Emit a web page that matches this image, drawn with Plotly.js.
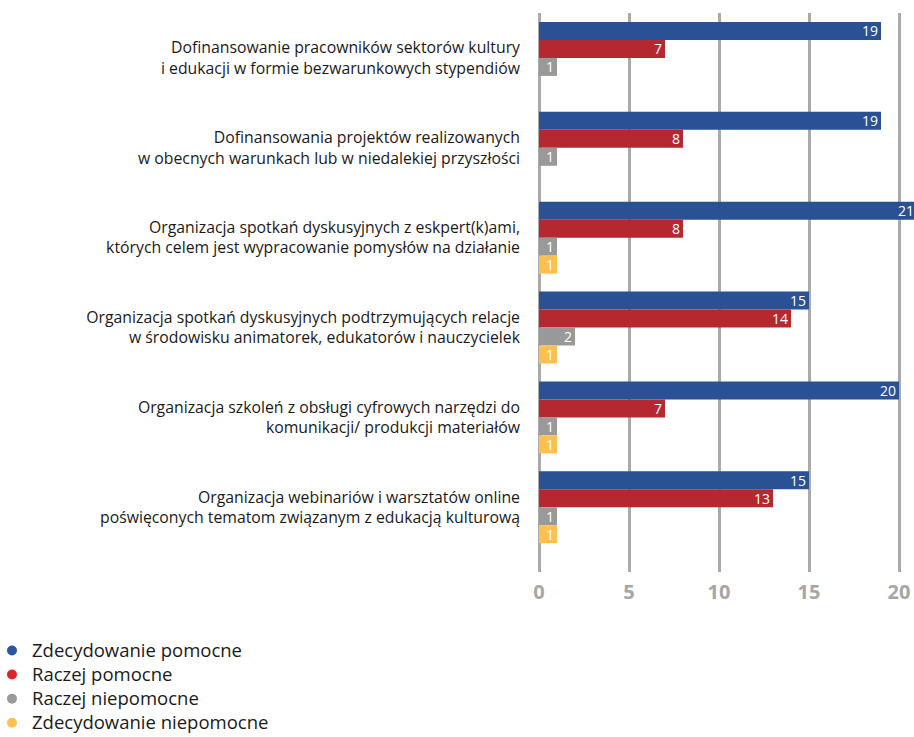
<!DOCTYPE html>
<html>
<head>
<meta charset="utf-8">
<script src="https://cdn.plot.ly/plotly-3.0.1.min.js"></script>
<style>html,body{margin:0;padding:0;background:#fff;}#chart{width:914px;height:737px;}</style>
</head>
<body>
<div id="chart"></div>
<script>
const categories = [
  "Dofinansowanie pracowników sektorów kultury<br>i edukacji w formie bezwarunkowych stypendiów",
  "Dofinansowania projektów realizowanych<br>w obecnych warunkach lub w niedalekiej przyszłości",
  "Organizacja spotkań dyskusyjnych z eskpert(k)ami,<br>których celem jest wypracowanie pomysłów na działanie",
  "Organizacja spotkań dyskusyjnych podtrzymujących relacje<br>w środowisku animatorek, edukatorów i nauczycielek",
  "Organizacja szkoleń z obsługi cyfrowych narzędzi do<br>komunikacji/ produkcji materiałów",
  "Organizacja webinariów i warsztatów online<br>poświęconych tematom związanym z edukacją kulturową"
];
const seriesNames = ["Zdecydowanie pomocne", "Raczej pomocne", "Raczej niepomocne", "Zdecydowanie niepomocne"];
const zdecydowaniePomocne   = [19, 19, 21, 15, 20, 15];
const raczejPomocne         = [7, 8, 8, 14, 7, 13];
const raczejNiepomocne      = [1, 1, 1, 2, 1, 1];
const zdecydowanieNiepomocne = [null, null, 1, 1, 1, 1];
const xTicks = [0, 5, 10, 15, 20];

const barColors = ["#2a5193", "#b5282f", "#999999", "#ffc04f"];
const legendColors = ["#2b55a3", "#e0232a", "#9a9a9a", "#ffc04f"];
const seriesValues = [zdecydowaniePomocne, raczejPomocne, raczejNiepomocne, zdecydowanieNiepomocne];
const FONT = "'Open Sans', Lato, sans-serif";

const traces = [];
seriesValues.forEach((vals, i) => {
  traces.push({
    type: "bar",
    orientation: "h",
    name: seriesNames[i],
    y: categories,
    x: vals,
    text: vals.map(v => v == null ? "" : String(v)),
    textposition: "inside",
    insidetextanchor: "end",
    textangle: 0,
    constraintext: "none",
    textfont: {family: FONT, size: 14, color: "#ffffff"},
    marker: {color: barColors[i], line: {width: 0}},
    showlegend: false,
    hoverinfo: "x+name"
  });
});
seriesValues.forEach((vals, i) => {
  traces.push({
    type: "scatter",
    mode: "markers",
    name: "<span style='font-size:18.5px'>" + seriesNames[i] + "</span>",
    x: [null],
    y: [null],
    marker: {color: legendColors[i], size: 10, symbol: "circle"},
    showlegend: true,
    hoverinfo: "skip"
  });
});

const layout = {
  width: 914,
  height: 737,
  margin: {l: 539, r: 0, t: 13, b: 165, autoexpand: false},
  paper_bgcolor: "#ffffff",
  plot_bgcolor: "#ffffff",
  font: {family: FONT, color: "#1a1a1a"},
  barmode: "group",
  bargap: 0.2,
  bargroupgap: 0,
  xaxis: {
    range: [0, 20.833],
    tickvals: xTicks,
    ticktext: xTicks.map(String),
    showgrid: true,
    gridcolor: "#aaaaaa",
    gridwidth: 3,
    zeroline: true,
    zerolinecolor: "#aaaaaa",
    zerolinewidth: 3,
    showline: false,
    ticks: "",
    ticklabelstandoff: 6,
    tickfont: {family: FONT, size: 20, weight: "bold", color: "#a6a6a6"},
    fixedrange: true
  },
  yaxis: {
    type: "category",
    categoryorder: "array",
    categoryarray: categories,
    range: [5.72, -0.5],
    showgrid: false,
    zeroline: false,
    showline: false,
    ticks: "",
    ticklabelstandoff: 18,
    tickfont: {family: FONT, size: 15.8, color: "#1a1a1a"},
    fixedrange: true
  },
  legend: {
    orientation: "v",
    xref: "paper",
    x: -1.4587,
    xanchor: "left",
    yref: "paper",
    y: -0.11,
    yanchor: "top",
    bgcolor: "rgba(0,0,0,0)",
    borderwidth: 0,
    font: {family: FONT, size: 16.2, color: "#1a1a1a"},
    traceorder: "normal"
  },
  showlegend: true
};

Plotly.newPlot("chart", traces, layout, {displayModeBar: false, staticPlot: true});
</script>
</body>
</html>
